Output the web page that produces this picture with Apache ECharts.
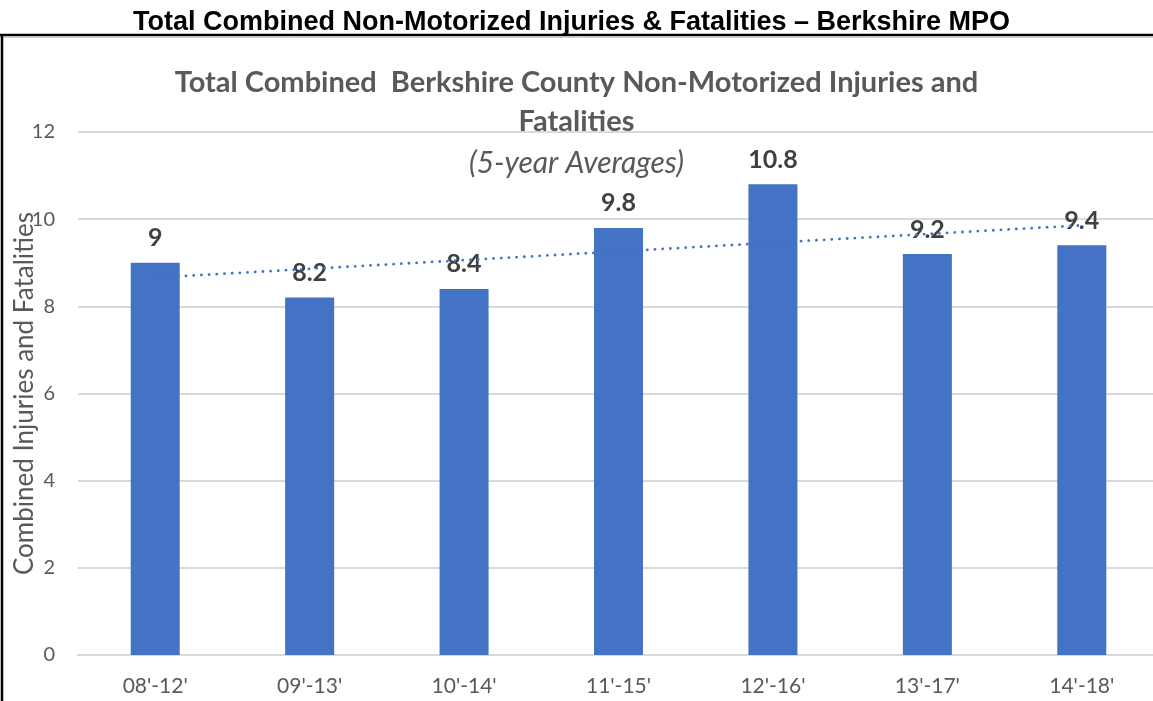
<!DOCTYPE html>
<html>
<head>
<meta charset="utf-8">
<script src="https://cdn.jsdelivr.net/npm/echarts@6/dist/echarts.min.js"></script>
<style>
  html, body { margin: 0; padding: 0; background: #fff; }
  #chart { width: 1153px; height: 701px; }
</style>
</head>
<body>
<div id="chart"></div>
<script>
var categories = ["08'-12'", "09'-13'", "10'-14'", "11'-15'", "12'-16'", "13'-17'", "14'-18'"];
var averages = [9, 8.2, 8.4, 9.8, 10.8, 9.2, 9.4];
// linear trendline, ends
var trend = [8.66, null, null, null, null, null, 9.86];

var grey = '#595959';
var dom = document.getElementById('chart');
var myChart = echarts.init(dom);
option = {
    textStyle: { fontFamily: 'Lato' },
    title: [
        {
            text: 'Total Combined Non-Motorized Injuries & Fatalities \u2013 Berkshire MPO',
            left: 128,
            top: 4,
            textStyle: { fontFamily: 'Liberation Sans', fontWeight: 'bold', fontSize: 27, lineHeight: 28, color: '#000' }
        },
        {
            text: 'Total Combined  Berkshire County Non-Motorized Injuries and\nFatalities',
            left: 'center',
            top: 58,
            textStyle: { fontFamily: 'Lato', fontWeight: 'bold', fontSize: 29, lineHeight: 39, color: grey }
        },
        {
            text: '(5-year Averages)',
            left: 'center',
            top: 143,
            textStyle: { fontFamily: 'Lato', fontStyle: 'italic', fontWeight: 'normal', fontSize: 30, lineHeight: 30, color: grey }
        }
    ],
    graphic: [
        { type: 'line', shape: { x1: 0, y1: 35, x2: 1153, y2: 35 }, style: { stroke: '#000', lineWidth: 2.5 } },
        { type: 'line', shape: { x1: 0, y1: 37.5, x2: 1153, y2: 37.5 }, style: { stroke: '#d0d0d0', lineWidth: 1 } },
        { type: 'line', shape: { x1: 2, y1: 34, x2: 2, y2: 701 }, style: { stroke: '#000', lineWidth: 2.5 } }
    ],
    grid: { left: 78, right: -6, top: 132, bottom: 46, outerBoundsMode: 'none' },
    xAxis: {
        type: 'category',
        data: categories,
        axisTick: { show: false },
        axisLine: { lineStyle: { color: '#d9d9d9', width: 2 } },
        axisLabel: { color: grey, fontSize: 21, margin: 21 }
    },
    yAxis: {
        type: 'value',
        min: 0,
        max: 12,
        interval: 2,
        name: 'Combined Injuries and Fatalities',
        nameLocation: 'middle',
        nameGap: 40,
        nameMoveOverlap: false,
        nameTextStyle: { color: grey, fontSize: 26 },
        axisLine: { show: false },
        axisTick: { show: false },
        axisLabel: { color: grey, fontSize: 20, margin: 23 },
        splitLine: { lineStyle: { color: '#d9d9d9', width: 2 } }
    },
    series: [
        {
            type: 'bar',
            data: averages,
            barWidth: 49,
            itemStyle: { color: '#4472C4' },
            label: {
                show: true,
                position: 'top',
                distance: 12,
                color: '#404040',
                fontWeight: 'bold',
                fontSize: 25
            }
        },
        {
            type: 'line',
            data: trend,
            connectNulls: true,
            symbol: 'none',
            silent: true,
            z: 3,
            lineStyle: { color: '#4472C4', width: 2.8, type: [0.1, 7.6], cap: 'round' }
        }
    ]
};
if (option && typeof option === 'object') {
    myChart.setOption(option, true);
}
</script>
</body>
</html>
